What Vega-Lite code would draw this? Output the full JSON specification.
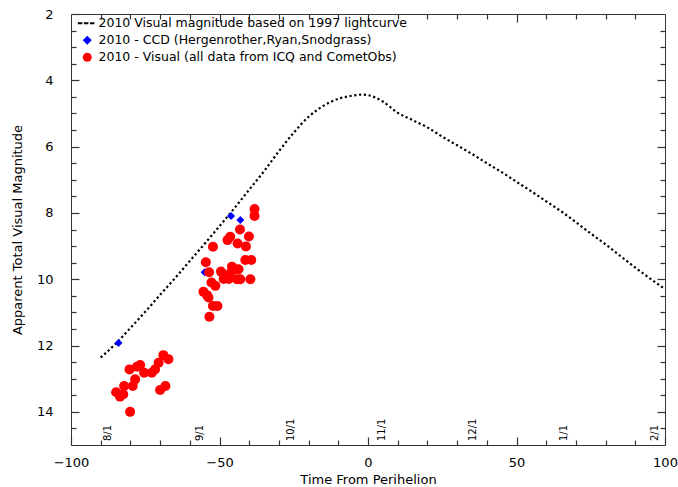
{
  "$schema": "https://vega.github.io/schema/vega-lite/v6.json",
  "width": 594,
  "height": 431,
  "autosize": {"type": "none"},
  "padding": {"left": 71, "top": 14, "right": 13, "bottom": 42},
  "title": {"text": "(2010 Return vs 1997 Return)", "fontSize": 13, "fontWeight": "bold", "offset": 9, "baseline": "alphabetic", "color": "black"},
  "config": {
    "font": "DejaVu Sans",
    "view": {"stroke": "#333", "strokeWidth": 1},
    "axis": {"grid": false, "domain": false, "labelFontSize": 13, "labelColor": "black", "titleFontSize": 13, "titleFontWeight": "normal", "titleColor": "black", "tickColor": "#333", "tickWidth": 1.2}
  },
  "datasets": {
    "curve": [
      {"t": -90, "m": 12.36}, {"t": -85, "m": 11.95}, {"t": -80, "m": 11.47}, {"t": -75, "m": 10.98},
      {"t": -70, "m": 10.47}, {"t": -65, "m": 9.97}, {"t": -60, "m": 9.45}, {"t": -55, "m": 8.93},
      {"t": -50, "m": 8.4}, {"t": -45, "m": 7.86}, {"t": -40, "m": 7.3}, {"t": -35, "m": 6.74},
      {"t": -30, "m": 6.14}, {"t": -25, "m": 5.58}, {"t": -20, "m": 5.1}, {"t": -15, "m": 4.77},
      {"t": -10, "m": 4.56}, {"t": -5, "m": 4.46}, {"t": -2, "m": 4.43}, {"t": 2, "m": 4.5},
      {"t": 5, "m": 4.64}, {"t": 10, "m": 4.98}, {"t": 15, "m": 5.2}, {"t": 20, "m": 5.42},
      {"t": 25, "m": 5.7}, {"t": 30, "m": 5.96}, {"t": 35, "m": 6.22}, {"t": 40, "m": 6.5},
      {"t": 45, "m": 6.77}, {"t": 50, "m": 7.06}, {"t": 55, "m": 7.35}, {"t": 60, "m": 7.65},
      {"t": 65, "m": 7.95}, {"t": 70, "m": 8.28}, {"t": 75, "m": 8.62}, {"t": 80, "m": 8.95},
      {"t": 85, "m": 9.3}, {"t": 90, "m": 9.65}, {"t": 95, "m": 9.98}, {"t": 100, "m": 10.3}
    ],
    "ccd": [
      {"t": -84.0, "m": 11.92, "series": "2010 - CCD (Hergenrother,Ryan,Snodgrass)"},
      {"t": -55.0, "m": 9.79, "series": "2010 - CCD (Hergenrother,Ryan,Snodgrass)"},
      {"t": -46.1, "m": 8.09, "series": "2010 - CCD (Hergenrother,Ryan,Snodgrass)"},
      {"t": -43.0, "m": 8.21, "series": "2010 - CCD (Hergenrother,Ryan,Snodgrass)"}
    ],
    "vis": [
      {"t": -38.2, "m": 7.88}, {"t": -38.2, "m": 8.09}, {"t": -43.1, "m": 8.5}, {"t": -40.1, "m": 8.71},
      {"t": -46.4, "m": 8.72}, {"t": -47.3, "m": 8.82}, {"t": -43.9, "m": 8.92}, {"t": -41.1, "m": 9.01},
      {"t": -52.2, "m": 9.02}, {"t": -41.3, "m": 9.42}, {"t": -39.3, "m": 9.42}, {"t": -54.6, "m": 9.49},
      {"t": -53.5, "m": 9.79}, {"t": -49.5, "m": 9.77}, {"t": -45.8, "m": 9.62}, {"t": -45.3, "m": 9.72},
      {"t": -43.6, "m": 9.7}, {"t": -46.7, "m": 9.84}, {"t": -48.6, "m": 9.99}, {"t": -46.9, "m": 9.99},
      {"t": -44.1, "m": 10.0}, {"t": -43.0, "m": 10.0}, {"t": -39.6, "m": 10.0}, {"t": -52.7, "m": 10.1},
      {"t": -51.4, "m": 10.2}, {"t": -55.4, "m": 10.38}, {"t": -54.2, "m": 10.48}, {"t": -53.7, "m": 10.55},
      {"t": -52.2, "m": 10.81}, {"t": -50.7, "m": 10.81}, {"t": -53.4, "m": 11.13},
      {"t": -68.9, "m": 12.29}, {"t": -67.2, "m": 12.41}, {"t": -70.5, "m": 12.52}, {"t": -71.7, "m": 12.72},
      {"t": -72.8, "m": 12.82}, {"t": -76.7, "m": 12.59}, {"t": -77.8, "m": 12.64}, {"t": -80.3, "m": 12.72},
      {"t": -75.4, "m": 12.82}, {"t": -78.4, "m": 13.02}, {"t": -79.2, "m": 13.22}, {"t": -82.1, "m": 13.22},
      {"t": -84.8, "m": 13.41}, {"t": -83.5, "m": 13.54}, {"t": -82.4, "m": 13.47}, {"t": -70.0, "m": 13.34},
      {"t": -68.2, "m": 13.22}, {"t": -80.1, "m": 14.0}
    ],
    "months": [
      {"t": -87.5, "label": "8/1"}, {"t": -56.5, "label": "9/1"}, {"t": -26, "label": "10/1"},
      {"t": 4.8, "label": "11/1"}, {"t": 35.2, "label": "12/1"}, {"t": 65.9, "label": "1/1"}, {"t": 96.6, "label": "2/1"}
    ]
  },
  "layer": [
    {
      "data": {"name": "curve"},
      "mark": {"type": "line", "color": "black", "strokeWidth": 2.2, "strokeDash": [2.2, 2.6], "interpolate": "monotone"},
      "encoding": {
        "x": {"field": "t", "type": "quantitative", "scale": {"domain": [-100, 100], "nice": false},
              "axis": {"orient": "bottom", "values": [-100, -50, 0, 50, 100], "tickSize": -8, "labelPadding": 19, "title": "Time From Perihelion", "titlePadding": 4, "labelFlush": false}},
        "y": {"field": "m", "type": "quantitative", "scale": {"domain": [2, 15], "nice": false, "reverse": true, "zero": false},
              "axis": {"orient": "left", "values": [2, 4, 6, 8, 10, 12, 14], "tickSize": -8, "labelPadding": 26, "title": "Apparent Total Visual Magnitude", "titlePadding": 12, "labelFlush": false}}
      }
    },
    {
      "data": {"name": "ccd"},
      "mark": {"type": "point", "filled": true, "opacity": 1, "size": 64},
      "encoding": {
        "x": {"field": "t", "type": "quantitative", "scale": {"domain": [-100, 100], "nice": false},
              "axis": {"orient": "bottom", "values": [-90, -80, -70, -60, -40, -30, -20, -10, 10, 20, 30, 40, 60, 70, 80, 90], "tickSize": -5, "labels": false, "title": null}},
        "y": {"field": "m", "type": "quantitative", "scale": {"domain": [2, 15], "nice": false, "reverse": true, "zero": false},
              "axis": {"orient": "left", "values": [2.5, 3, 3.5, 4.5, 5, 5.5, 6.5, 7, 7.5, 8.5, 9, 9.5, 10.5, 11, 11.5, 12.5, 13, 13.5, 14.5], "tickSize": -5, "labels": false, "title": null}},
        "color": {"field": "series", "type": "nominal",
                  "scale": {"domain": ["2010 Visual magnitude based on 1997 lightcurve", "2010 - CCD (Hergenrother,Ryan,Snodgrass)", "2010 - Visual (all data from ICQ and CometObs)"], "range": ["black", "#0000ff", "#ff0000"]},
                  "legend": {"title": null, "orient": "none", "legendX": 10, "legendY": 3, "labelFontSize": 12.5, "labelColor": "black", "symbolSize": 80, "rowPadding": 4, "labelOffset": 5, "padding": 0, "labelLimit": 500}},
        "shape": {"field": "series", "type": "nominal",
                  "scale": {"domain": ["2010 Visual magnitude based on 1997 lightcurve", "2010 - CCD (Hergenrother,Ryan,Snodgrass)", "2010 - Visual (all data from ICQ and CometObs)"], "range": ["M-2.1,-0.2H-1.1V0.2H-2.1Z M-0.75,-0.2H0.25V0.2H-0.75Z M0.6,-0.2H1.6V0.2H0.6Z", "diamond", "circle"]},
                  "legend": {"title": null}}
      }
    },
    {
      "data": {"name": "vis"},
      "transform": [{"calculate": "'2010 - Visual (all data from ICQ and CometObs)'", "as": "series"}],
      "mark": {"type": "point", "filled": true, "opacity": 1, "size": 100},
      "encoding": {
        "x": {"field": "t", "type": "quantitative", "scale": {"domain": [-100, 100], "nice": false},
              "axis": {"orient": "top", "values": [-90, -80, -70, -60, -40, -30, -20, -10, 10, 20, 30, 40, 60, 70, 80, 90], "tickSize": -5, "labels": false, "title": null}},
        "y": {"field": "m", "type": "quantitative", "scale": {"domain": [2, 15], "nice": false, "reverse": true, "zero": false},
              "axis": {"orient": "right", "values": [2.5, 3, 3.5, 4.5, 5, 5.5, 6.5, 7, 7.5, 8.5, 9, 9.5, 10.5, 11, 11.5, 12.5, 13, 13.5, 14.5], "tickSize": -5, "labels": false, "title": null}},
        "color": {"field": "series", "type": "nominal"},
        "shape": {"field": "series", "type": "nominal"}
      }
    },
    {
      "data": {"name": "months"},
      "mark": {"type": "text", "angle": 270, "align": "left", "baseline": "middle", "fontSize": 10, "color": "black"},
      "encoding": {
        "x": {"field": "t", "type": "quantitative", "scale": {"domain": [-100, 100], "nice": false},
              "axis": {"orient": "top", "values": [-50, 0, 50], "tickSize": -8, "labels": false, "title": null}},
        "y": {"datum": 14.88, "type": "quantitative", "scale": {"domain": [2, 15], "nice": false, "reverse": true, "zero": false},
              "axis": {"orient": "right", "values": [4, 6, 8, 10, 12, 14], "tickSize": -8, "labels": false, "title": null}},
        "text": {"field": "label"}
      }
    }
  ],
  "resolve": {"axis": {"x": "independent", "y": "independent"}}
}
